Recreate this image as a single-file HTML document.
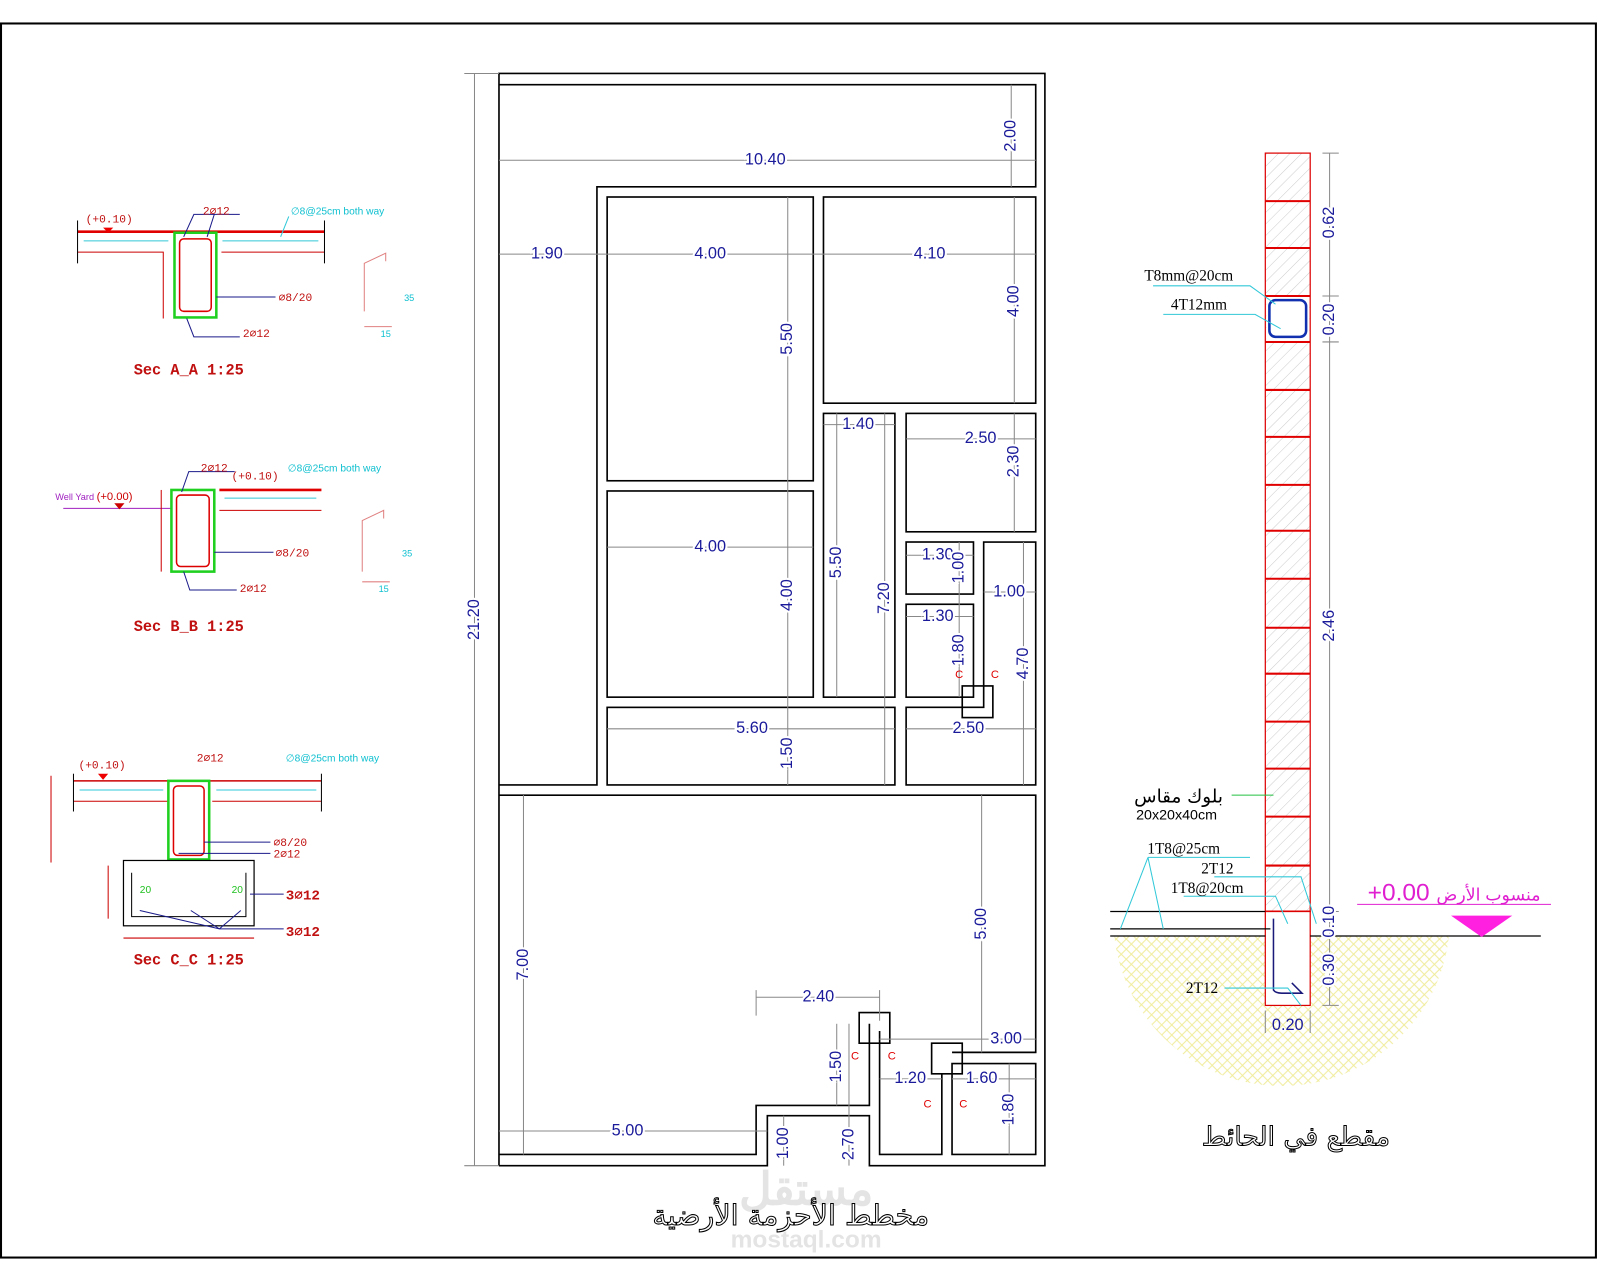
<!DOCTYPE html>
<html><head><meta charset="utf-8"><style>
html,body{margin:0;padding:0;background:#fff}
svg{display:block}
.d{stroke:#888;stroke-width:1;fill:none}
.w{stroke:#000;stroke-width:1.6;fill:none}
.t{font-family:"Liberation Sans",sans-serif;font-size:16px;fill:#1a1a9a;text-anchor:middle;dominant-baseline:middle}
.r{font-family:"Liberation Mono",monospace;fill:#c01010}
.c{font-family:"Liberation Sans",sans-serif;fill:#10c0d0}
.s{font-family:"Liberation Serif",serif;font-size:15px;fill:#000}
</style></head><body>
<svg width="1600" height="1280" viewBox="0 0 1568 1254" preserveAspectRatio="none" xmlns="http://www.w3.org/2000/svg">
<defs>
<pattern id="h" width="8" height="8" patternUnits="userSpaceOnUse" patternTransform="rotate(45)"><line x1="0" y1="0" x2="0" y2="8" stroke="#ccc" stroke-width="1"/></pattern>
<pattern id="y" width="14" height="14" patternUnits="userSpaceOnUse" patternTransform="rotate(45)"><path d="M0 3H14M0 10H14M3 0V14M10 0V14" stroke="#f0ec9a" stroke-width="1"/></pattern>
</defs>
<rect x="0" y="0" width="1568" height="1254" fill="#fff"/>
<rect x="1" y="23" width="1563" height="1209" fill="none" stroke="#000" stroke-width="2"/>

<!-- PLAN walls -->
<g class="w">
<polyline points="489,1142 489,72 1024,72 1024,1142 852,1142 852,1093 752,1093 752,1142 489,1142"/>
<polyline points="489,83 1015,83 1015,183 585,183 585,769 489,769"/>
<rect x="595" y="193" width="202" height="278"/>
<rect x="807" y="193" width="208" height="202"/>
<rect x="595" y="481" width="202" height="202"/>
<rect x="807" y="405" width="70" height="278"/>
<rect x="888" y="405" width="127" height="116"/>
<rect x="888" y="531" width="66" height="51"/>
<rect x="888" y="592" width="66" height="91"/>
<rect x="595" y="693" width="282" height="76"/>
<polygon points="964,531 1015,531 1015,769 888,769 888,693 964,693"/>
<rect x="943" y="672" width="30" height="31"/>
<polyline points="489,779 1015,779 1015,1031 933,1031"/>
<polyline points="489,1131 741,1131 741,1083 852,1083 852,1003"/>
<polyline points="862,1010 862,1131 923,1131 923,1052"/>
<polyline points="933,1052 933,1042 1015,1042 1015,1131 933,1131 933,1052"/>
<rect x="842" y="992" width="30" height="30"/>
<rect x="913" y="1022" width="30" height="30"/>
</g>
<!-- dim lines -->
<g class="d">
<line x1="489" y1="157" x2="1015" y2="157"/><line x1="991" y1="83" x2="991" y2="183"/>
<line x1="489" y1="249" x2="1015" y2="249"/>
<line x1="772" y1="193" x2="772" y2="481"/><line x1="994" y1="193" x2="994" y2="395"/>
<line x1="807" y1="416" x2="877" y2="416"/><line x1="888" y1="430" x2="1015" y2="430"/><line x1="994" y1="405" x2="994" y2="521"/>
<line x1="595" y1="536" x2="797" y2="536"/><line x1="772" y1="481" x2="772" y2="769"/>
<line x1="820" y1="405" x2="820" y2="683"/><line x1="867" y1="405" x2="867" y2="769"/>
<line x1="888" y1="544" x2="954" y2="544"/><line x1="940" y1="531" x2="940" y2="683"/>
<line x1="964" y1="580" x2="1015" y2="580"/><line x1="888" y1="604" x2="954" y2="604"/>
<line x1="1003" y1="531" x2="1003" y2="769"/>
<line x1="595" y1="714" x2="877" y2="714"/><line x1="888" y1="714" x2="1015" y2="714"/>
<line x1="465" y1="72" x2="465" y2="1142"/><line x1="455" y1="72" x2="489" y2="72"/><line x1="455" y1="1142" x2="489" y2="1142"/>
<line x1="513" y1="779" x2="513" y2="1131"/><line x1="962" y1="779" x2="962" y2="1031"/>
<line x1="741" y1="977" x2="862" y2="977"/><line x1="741" y1="970" x2="741" y2="995"/><line x1="862" y1="970" x2="862" y2="1000"/>
<line x1="862" y1="1018" x2="1015" y2="1018"/>
<line x1="820" y1="1003" x2="820" y2="1083"/><line x1="832" y1="1003" x2="832" y2="1142"/>
<line x1="862" y1="1057" x2="923" y2="1057"/><line x1="933" y1="1057" x2="1015" y2="1057"/>
<line x1="989" y1="1042" x2="989" y2="1131"/>
<line x1="489" y1="1108" x2="752" y2="1108"/><line x1="768" y1="1093" x2="768" y2="1142"/>
</g>
<g class="t">
<text x="750" y="157" fill="#1a1a9a" style="paint-order:stroke" stroke="#fff" stroke-width="4">10.40</text>
<text x="536" y="249" stroke="#fff" stroke-width="4" style="paint-order:stroke">1.90</text>
<text x="696" y="249" stroke="#fff" stroke-width="4" style="paint-order:stroke">4.00</text>
<text x="911" y="249" stroke="#fff" stroke-width="4" style="paint-order:stroke">4.10</text>
<text x="841" y="416" stroke="#fff" stroke-width="4" style="paint-order:stroke">1.40</text>
<text x="961" y="430" stroke="#fff" stroke-width="4" style="paint-order:stroke">2.50</text>
<text x="696" y="536" stroke="#fff" stroke-width="4" style="paint-order:stroke">4.00</text>
<text x="919" y="544" stroke="#fff" stroke-width="4" style="paint-order:stroke">1.30</text>
<text x="989" y="580" stroke="#fff" stroke-width="4" style="paint-order:stroke">1.00</text>
<text x="919" y="604" stroke="#fff" stroke-width="4" style="paint-order:stroke">1.30</text>
<text x="737" y="714" stroke="#fff" stroke-width="4" style="paint-order:stroke">5.60</text>
<text x="949" y="714" stroke="#fff" stroke-width="4" style="paint-order:stroke">2.50</text>
<text x="802" y="977" stroke="#fff" stroke-width="4" style="paint-order:stroke">2.40</text>
<text x="986" y="1018" stroke="#fff" stroke-width="4" style="paint-order:stroke">3.00</text>
<text x="892" y="1057" stroke="#fff" stroke-width="4" style="paint-order:stroke">1.20</text>
<text x="962" y="1057" stroke="#fff" stroke-width="4" style="paint-order:stroke">1.60</text>
<text x="615" y="1108" stroke="#fff" stroke-width="4" style="paint-order:stroke">5.00</text>
<g stroke="#fff" stroke-width="4" style="paint-order:stroke">
<text transform="translate(991,133) rotate(-90)">2.00</text>
<text transform="translate(772,332) rotate(-90)">5.50</text>
<text transform="translate(994,295) rotate(-90)">4.00</text>
<text transform="translate(994,452) rotate(-90)">2.30</text>
<text transform="translate(772,583) rotate(-90)">4.00</text>
<text transform="translate(820,551) rotate(-90)">5.50</text>
<text transform="translate(867,586) rotate(-90)">7.20</text>
<text transform="translate(940,556) rotate(-90)">1.00</text>
<text transform="translate(940,637) rotate(-90)">1.80</text>
<text transform="translate(1003,650) rotate(-90)">4.70</text>
<text transform="translate(772,738) rotate(-90)">1.50</text>
<text transform="translate(465,607) rotate(-90)">21.20</text>
<text transform="translate(513,945) rotate(-90)">7.00</text>
<text transform="translate(962,905) rotate(-90)">5.00</text>
<text transform="translate(820,1045) rotate(-90)">1.50</text>
<text transform="translate(832,1121) rotate(-90)">2.70</text>
<text transform="translate(989,1087) rotate(-90)">1.80</text>
<text transform="translate(768,1120) rotate(-90)">1.00</text>
</g></g>
<g font-family="Liberation Sans,sans-serif" font-size="11" fill="#e00000" text-anchor="middle">
<text x="940" y="664">C</text><text x="975" y="664">C</text>
<text x="838" y="1038">C</text><text x="874" y="1038">C</text>
<text x="909" y="1085">C</text><text x="944" y="1085">C</text>
</g>
<text x="790" y="1180" font-family="Liberation Sans,'Noto Sans CJK SC',sans-serif" font-size="44" font-weight="bold" fill="#e4e4e4" text-anchor="middle">مستقل</text>
<text x="790" y="1222" font-family="Liberation Sans,sans-serif" font-size="24" font-weight="bold" fill="#e4e4e4" text-anchor="middle">mostaql.com</text>
<text x="775" y="1200" font-family="DejaVu Sans,sans-serif" font-size="28" fill="#fff" stroke="#000" stroke-width="1" text-anchor="middle">مخطط الأحزمة الأرضية</text>

<!-- WALL SECTION -->
<path d="M1092 917 H1420 A165 165 0 0 1 1092 917Z" fill="url(#y)"/>
<rect x="1240" y="150" width="44" height="743" fill="url(#h)" stroke="#d00" stroke-width="1.2"/>
<g stroke="#e00000" stroke-width="2">
<line x1="1240" y1="197" x2="1284" y2="197"/><line x1="1240" y1="243" x2="1284" y2="243"/>
<line x1="1240" y1="290" x2="1284" y2="290"/><line x1="1240" y1="335" x2="1284" y2="335"/>
<line x1="1240" y1="382" x2="1284" y2="382"/><line x1="1240" y1="428" x2="1284" y2="428"/>
<line x1="1240" y1="475" x2="1284" y2="475"/><line x1="1240" y1="520" x2="1284" y2="520"/>
<line x1="1240" y1="567" x2="1284" y2="567"/><line x1="1240" y1="615" x2="1284" y2="615"/>
<line x1="1240" y1="660" x2="1284" y2="660"/><line x1="1240" y1="707" x2="1284" y2="707"/>
<line x1="1240" y1="753" x2="1284" y2="753"/><line x1="1240" y1="800" x2="1284" y2="800"/>
<line x1="1240" y1="848" x2="1284" y2="848"/><line x1="1240" y1="893" x2="1284" y2="893"/>
</g>
<rect x="1241" y="291" width="42" height="43" fill="#fff"/>
<rect x="1244" y="294" width="36" height="36" rx="6" fill="none" stroke="#1030b0" stroke-width="2.5"/>
<rect x="1240" y="893" width="44" height="92" fill="#fff" stroke="#d00" stroke-width="1.2"/>
<path d="M1248 900 V970 Q1250 973 1256 973 H1276 L1266 963" fill="none" stroke="#1a1a7a" stroke-width="1.5"/>
<g stroke="#000" stroke-width="1.2"><line x1="1088" y1="893" x2="1240" y2="893"/><line x1="1088" y1="910" x2="1245" y2="910"/><line x1="1088" y1="917" x2="1240" y2="917"/><line x1="1284" y1="917" x2="1510" y2="917"/></g>
<g class="d"><line x1="1303" y1="150" x2="1303" y2="985"/>
<line x1="1296" y1="150" x2="1312" y2="150"/><line x1="1296" y1="290" x2="1312" y2="290"/><line x1="1296" y1="335" x2="1312" y2="335"/><line x1="1296" y1="893" x2="1312" y2="893"/><line x1="1296" y1="985" x2="1312" y2="985"/>
<line x1="1240" y1="990" x2="1240" y2="1012"/><line x1="1284" y1="990" x2="1284" y2="1012"/></g>
<g class="t">
<text transform="translate(1303,218) rotate(-90)" stroke="#fff" stroke-width="4" style="paint-order:stroke">0.62</text>
<text transform="translate(1303,313) rotate(-90)" stroke="#fff" stroke-width="4" style="paint-order:stroke">0.20</text>
<text transform="translate(1303,613) rotate(-90)" stroke="#fff" stroke-width="4" style="paint-order:stroke">2.46</text>
<text transform="translate(1303,903) rotate(-90)" stroke="#fff" stroke-width="4" style="paint-order:stroke">0.10</text>
<text transform="translate(1303,950) rotate(-90)" stroke="#fff" stroke-width="4" style="paint-order:stroke">0.30</text>
<text x="1262" y="1005">0.20</text>
</g>
<g stroke="#30c8d8" stroke-width="1" fill="none">
<polyline points="1130,280 1225,280 1250,298"/><polyline points="1140,308 1230,308 1255,322"/>
<line x1="1207" y1="779" x2="1248" y2="779" stroke="#20c040"/>
<polyline points="1125,840 1098,910"/><polyline points="1125,840 1140,910"/><line x1="1125" y1="840" x2="1225" y2="840"/>
<polyline points="1190,859 1275,859 1290,905"/><polyline points="1160,878 1250,878 1262,905"/>
<polyline points="1200,968 1262,968 1275,985"/>
</g>
<g class="s">
<text x="1165" y="275" text-anchor="middle">T8mm@20cm</text>
<text x="1175" y="303" text-anchor="middle">4T12mm</text>
<text x="1160" y="836" text-anchor="middle">1T8@25cm</text>
<text x="1193" y="856" text-anchor="middle">2T12</text>
<text x="1183" y="875" text-anchor="middle">1T8@20cm</text>
<text x="1178" y="973" text-anchor="middle">2T12</text>
</g>
<text x="1155" y="786" font-family="DejaVu Sans,sans-serif" font-size="18" text-anchor="middle">بلوك مقاس</text>
<text x="1153" y="803" font-family="Liberation Sans,sans-serif" font-size="14" text-anchor="middle">20x20x40cm</text>
<text x="1425" y="882" font-family="Liberation Sans,DejaVu Sans,sans-serif" font-size="24" fill="#e020d0" text-anchor="middle">+0.00 <tspan font-size="17">منسوب الأرض</tspan></text>
<line x1="1330" y1="886" x2="1520" y2="886" stroke="#e020d0"/>
<polygon points="1422,897 1482,897 1452,918" fill="#ff20e0"/>
<text x="1270" y="1122" font-family="DejaVu Sans,sans-serif" font-size="26" fill="#fff" stroke="#000" stroke-width="1" text-anchor="middle">مقطع في الحائط</text>

<!-- SECTIONS -->
<g id="A">
<line x1="76" y1="227" x2="318" y2="227" stroke="#e00000" stroke-width="2.5"/>
<polyline points="76,247 160,247 160,312" fill="none" stroke="#c00" stroke-width="1"/>
<line x1="217" y1="247" x2="318" y2="247" stroke="#c00"/>
<line x1="76" y1="216" x2="76" y2="258" stroke="#000"/><line x1="318" y1="216" x2="318" y2="258" stroke="#000"/>
<rect x="171" y="228" width="41" height="83" fill="none" stroke="#20d020" stroke-width="2.5"/>
<rect x="176" y="234" width="31" height="71" rx="4" fill="none" stroke="#d00" stroke-width="1.5"/>
<line x1="82" y1="236" x2="165" y2="236" stroke="#30c8d8"/><line x1="218" y1="236" x2="312" y2="236" stroke="#30c8d8"/>
<polyline points="180,232 190,210 235,210" fill="none" stroke="#1a1a8a"/><polyline points="203,232 210,210" fill="none" stroke="#1a1a8a"/>
<line x1="212" y1="291" x2="270" y2="291" stroke="#1a1a8a"/>
<polyline points="183,312 190,330 235,330" fill="none" stroke="#1a1a8a"/>
<polygon points="101,223 111,223 106,228" fill="#e00"/>
<text x="107" y="218" class="r" font-size="11" text-anchor="middle">(+0.10)</text>
<text x="212" y="210" class="r" font-size="11" text-anchor="middle">2∅12</text>
<text x="273" y="295" class="r" font-size="11">∅8/20</text>
<text x="238" y="330" class="r" font-size="11">2∅12</text>
<text x="285" y="210" class="c" font-size="10">∅8@25cm both way</text>
<line x1="283" y1="212" x2="275" y2="232" stroke="#30c8d8"/>
<polyline points="357,305 357,258 378,248 378,256" fill="none" stroke="#e08080"/><line x1="357" y1="320" x2="384" y2="320" stroke="#e08080"/>
<text x="396" y="295" class="c" font-size="9">35</text><text x="373" y="330" class="c" font-size="9">15</text>
<text x="185" y="367" class="r" font-size="15" font-weight="bold" text-anchor="middle">Sec A_A 1:25</text>
</g>
<g>
<line x1="215" y1="480" x2="315" y2="480" stroke="#e00000" stroke-width="2.5"/>
<line x1="215" y1="500" x2="315" y2="500" stroke="#c00"/>
<line x1="62" y1="498" x2="168" y2="498" stroke="#a020c0"/>
<rect x="168" y="480" width="42" height="80" fill="none" stroke="#20d020" stroke-width="2.5"/>
<rect x="173" y="485" width="32" height="70" rx="4" fill="none" stroke="#d00" stroke-width="1.5"/>
<line x1="220" y1="488" x2="310" y2="488" stroke="#30c8d8"/>
<line x1="158" y1="480" x2="158" y2="560" stroke="#c00"/>
<polyline points="178,482 185,462 230,462" fill="none" stroke="#1a1a8a"/>
<line x1="210" y1="541" x2="268" y2="541" stroke="#1a1a8a"/>
<polyline points="180,560 186,578 232,578" fill="none" stroke="#1a1a8a"/>
<polygon points="112,493 122,493 117,499" fill="#c00"/>
<text x="92" y="490" font-family="Liberation Sans" font-size="9" fill="#a020c0" text-anchor="middle">Well Yard <tspan fill="#c00" font-size="11">(+0.00)</tspan></text>
<text x="250" y="470" class="r" font-size="11" text-anchor="middle">(+0.10)</text>
<text x="210" y="462" class="r" font-size="11" text-anchor="middle">2∅12</text>
<text x="270" y="545" class="r" font-size="11">∅8/20</text>
<text x="235" y="580" class="r" font-size="11">2∅12</text>
<text x="282" y="462" class="c" font-size="10">∅8@25cm both way</text>
<polyline points="355,560 355,510 376,500 376,508" fill="none" stroke="#e08080"/><line x1="355" y1="570" x2="382" y2="570" stroke="#e08080"/>
<text x="394" y="545" class="c" font-size="9">35</text><text x="371" y="580" class="c" font-size="9">15</text>
<text x="185" y="618" class="r" font-size="15" font-weight="bold" text-anchor="middle">Sec B_B 1:25</text>
</g>
<g>
<line x1="72" y1="765" x2="315" y2="765" stroke="#c00" stroke-width="1.5"/>
<line x1="72" y1="785" x2="165" y2="785" stroke="#c00"/><line x1="208" y1="785" x2="315" y2="785" stroke="#c00"/>
<line x1="72" y1="758" x2="72" y2="795" stroke="#000"/><line x1="315" y1="758" x2="315" y2="795" stroke="#000"/>
<rect x="165" y="765" width="40" height="77" fill="none" stroke="#20d020" stroke-width="2.5"/>
<rect x="170" y="770" width="30" height="68" rx="4" fill="none" stroke="#d00" stroke-width="1.5"/>
<line x1="78" y1="774" x2="160" y2="774" stroke="#30c8d8"/><line x1="212" y1="774" x2="310" y2="774" stroke="#30c8d8"/>
<rect x="121" y="843" width="128" height="64" fill="none" stroke="#000" stroke-width="1.2"/>
<polyline points="129,855 129,898 241,898 241,855" fill="none" stroke="#000"/>
<line x1="200" y1="825" x2="265" y2="825" stroke="#1a1a8a"/><line x1="175" y1="836" x2="265" y2="836" stroke="#1a1a8a"/>
<line x1="245" y1="876" x2="278" y2="876" stroke="#1a1a8a"/>
<polyline points="137,892 215,910 278,910" fill="none" stroke="#1a1a8a"/><line x1="187" y1="892" x2="215" y2="910" stroke="#1a1a8a"/><line x1="236" y1="892" x2="215" y2="910" stroke="#1a1a8a"/>
<polygon points="96,758 106,758 101,764" fill="#e00"/>
<text x="100" y="753" class="r" font-size="11" text-anchor="middle">(+0.10)</text>
<text x="206" y="746" class="r" font-size="11" text-anchor="middle">2∅12</text>
<text x="268" y="829" class="r" font-size="11">∅8/20</text>
<text x="268" y="840" class="r" font-size="11">2∅12</text>
<text x="280" y="881" class="r" font-size="14" font-weight="bold">3∅12</text>
<text x="280" y="917" class="r" font-size="14" font-weight="bold">3∅12</text>
<text x="137" y="875" font-size="10" fill="#20c020" font-family="Liberation Sans">20</text><text x="227" y="875" font-size="10" fill="#20c020" font-family="Liberation Sans">20</text>
<text x="280" y="746" class="c" font-size="10">∅8@25cm both way</text>
<line x1="121" y1="919" x2="249" y2="919" stroke="#c00"/>
<line x1="50" y1="760" x2="50" y2="845" stroke="#c00"/><line x1="106" y1="848" x2="106" y2="900" stroke="#c00"/>
<text x="185" y="945" class="r" font-size="15" font-weight="bold" text-anchor="middle">Sec C_C 1:25</text>
</g>
</svg>
</body></html>
